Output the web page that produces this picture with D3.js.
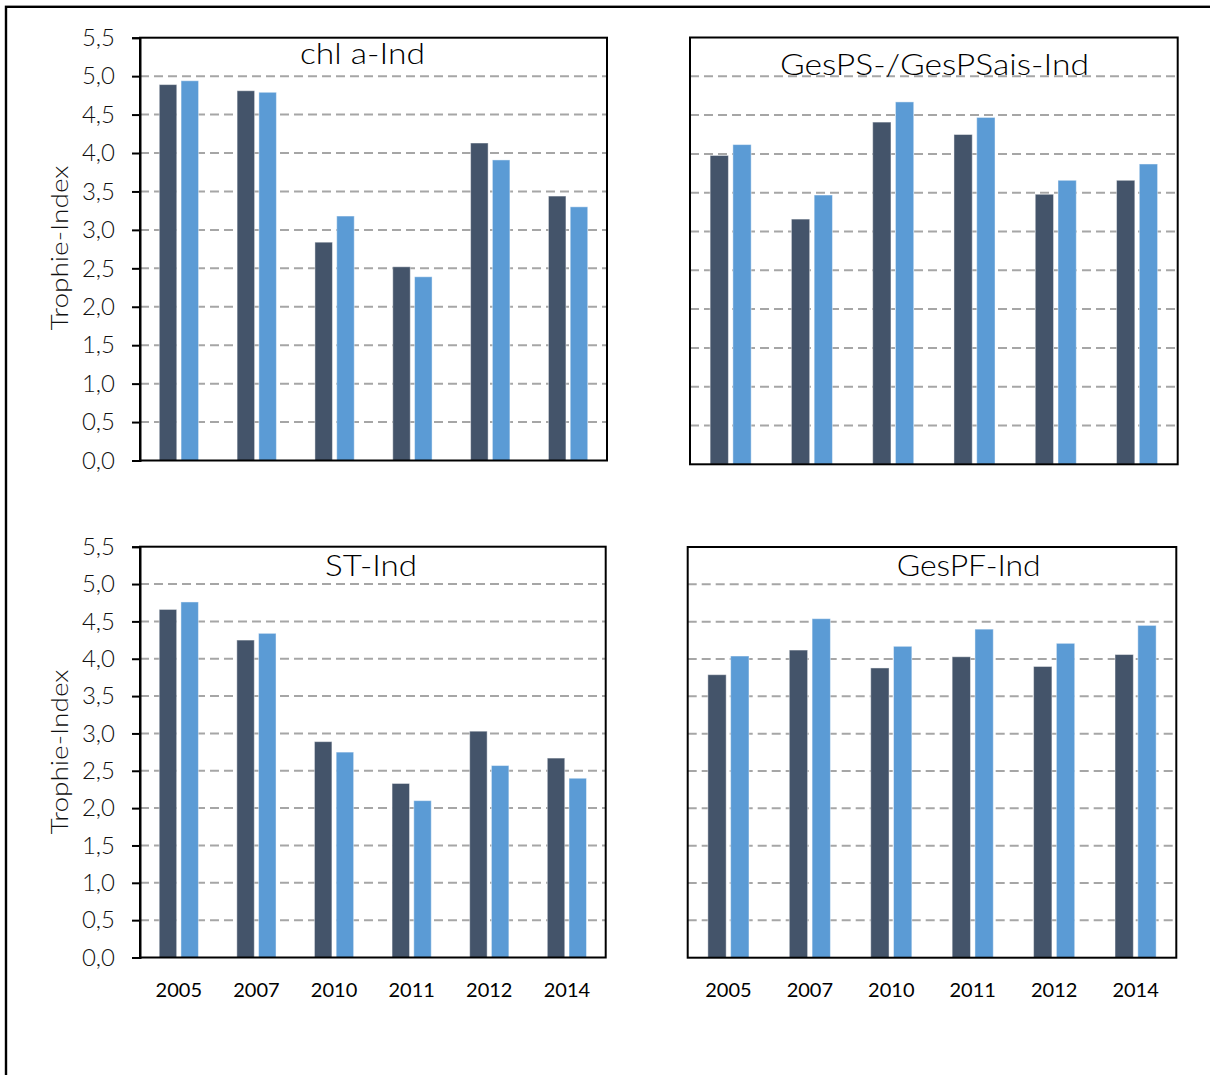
<!DOCTYPE html>
<html>
<head>
<meta charset="utf-8">
<script src="https://cdn.jsdelivr.net/npm/d3@7"></script>
<style>
  html, body { margin: 0; padding: 0; background: #fff; }
  svg { display: block; }
</style>
</head>
<body>
<svg id="chart" width="1210" height="1075"></svg>
<script>
// Years shown on every panel
const years = ["2005", "2007", "2010", "2011", "2012", "2014"];

// Trophie-Index values, two series per indicator
const chlA_1   = [4.89, 4.81, 2.84, 2.52, 4.13, 3.44];
const chlA_2   = [4.94, 4.79, 3.18, 2.39, 3.91, 3.30];
const gesPS_1  = [3.98, 3.16, 4.41, 4.25, 3.48, 3.66];
const gesPS_2  = [4.12, 3.47, 4.67, 4.47, 3.66, 3.87];
const st_1     = [4.66, 4.25, 2.89, 2.33, 3.03, 2.67];
const st_2     = [4.76, 4.34, 2.75, 2.10, 2.57, 2.40];
const gesPF_1  = [3.79, 4.12, 3.88, 4.03, 3.90, 4.06];
const gesPF_2  = [4.04, 4.54, 4.17, 4.40, 4.21, 4.45];

// Axis ticks
const yTicks = [0, 0.5, 1, 1.5, 2, 2.5, 3, 3.5, 4, 4.5, 5, 5.5];
const gridTicks = [0.5, 1, 1.5, 2, 2.5, 3, 3.5, 4, 4.5, 5];

const colors = ["#44546A", "#5B9BD5"];
const fmt = v => d3.format(".1f")(v).replace(".", ",");
const lightFont = "Lato, 'Open Sans', 'Noto Sans', sans-serif";

const panels = [
  { title: "chl a-Ind", s1: chlA_1, s2: chlA_2,
    x0: 140, x1: 607, yTop: 37.7, yBot: 460.5,
    tx: 362.5, ty: 63.5, tw: 125, yAxis: true, xLabels: false, labelY: 248 },
  { title: "GesPS-/GesPSais-Ind", s1: gesPS_1, s2: gesPS_2,
    x0: 690, x1: 1177.7, yTop: 37.5, yBot: 464.3,
    tx: 934.5, ty: 75, tw: 309, yAxis: false, xLabels: false },
  { title: "ST-Ind", s1: st_1, s2: st_2,
    x0: 140, x1: 605.7, yTop: 546.7, yBot: 957.5,
    tx: 371, ty: 576, tw: 92, yAxis: true, xLabels: true, labelY: 752 },
  { title: "GesPF-Ind", s1: gesPF_1, s2: gesPF_2,
    x0: 687.7, x1: 1176.3, yTop: 547, yBot: 957.7,
    tx: 968.7, ty: 576, tw: 144, yAxis: false, xLabels: true }
];

const svg = d3.select("#chart");

// outer frame (left and top edges visible)
svg.append("rect")
  .attr("x", 6).attr("y", 6.8)
  .attr("width", 1400).attr("height", 1200)
  .attr("fill", "none").attr("stroke", "#000").attr("stroke-width", 2.4);

panels.forEach(p => {
  const g = svg.append("g");
  const x = d3.scaleBand().domain(years).range([p.x0, p.x1]).paddingInner(0).paddingOuter(0);
  const y = d3.scaleLinear().domain([0, 5.5]).range([p.yBot, p.yTop]);
  const bw = x.bandwidth();
  const barW = bw * 0.225;
  const gap = bw * 0.055;

  // dashed gridlines
  g.append("g").selectAll("line").data(gridTicks).join("line")
    .attr("x1", p.x0).attr("x2", p.x1)
    .attr("y1", d => y(d)).attr("y2", d => y(d))
    .attr("stroke", "#A6A6A6").attr("stroke-width", 2)
    .attr("stroke-dasharray", "9,5");

  // bars
  const series = [p.s1, p.s2];
  series.forEach((vals, si) => {
    g.append("g").selectAll("rect").data(vals).join("rect")
      .attr("x", (d, i) => x(years[i]) + bw / 2 - (barW + gap / 2) + si * (barW + gap))
      .attr("y", d => y(d))
      .attr("width", barW)
      .attr("height", d => y(0) - y(d))
      .attr("fill", colors[si])
      .attr("stroke", "#ffffff").attr("stroke-opacity", 0.45).attr("stroke-width", 1);
  });

  // plot frame
  g.append("rect")
    .attr("x", p.x0).attr("y", p.yTop)
    .attr("width", p.x1 - p.x0).attr("height", p.yBot - p.yTop)
    .attr("fill", "none").attr("stroke", "#000").attr("stroke-width", 2);

  if (p.yAxis) {
    const ax = g.append("g")
      .attr("transform", `translate(${p.x0},0)`)
      .call(d3.axisLeft(y).tickValues(yTicks).tickFormat(fmt).tickSize(8).tickPadding(17));
    ax.select(".domain").attr("stroke", "#000").attr("stroke-width", 2);
    ax.selectAll(".tick line").attr("stroke", "#000").attr("stroke-width", 2);
    ax.selectAll(".tick text")
      .attr("font-family", lightFont).attr("font-weight", 300)
      .attr("font-size", 24).attr("fill", "#111");

    svg.append("text")
      .attr("transform", `translate(68,${p.labelY}) rotate(-90)`)
      .attr("text-anchor", "middle")
      .attr("font-family", lightFont).attr("font-weight", 300)
      .attr("font-size", 24).attr("fill", "#111")
      .attr("textLength", 165).attr("lengthAdjust", "spacingAndGlyphs")
      .text("Trophie-Index");
  }

  if (p.xLabels) {
    const ax = g.append("g")
      .attr("transform", `translate(0,${p.yBot})`)
      .call(d3.axisBottom(x).tickSize(0).tickPadding(0));
    ax.select(".domain").remove();
    ax.selectAll(".tick text")
      .attr("y", 39.5).attr("dy", 0)
      .attr("font-family", "Lato, 'Noto Sans', sans-serif")
      .attr("font-size", 20).attr("fill", "#000");
  }

  // panel title
  g.append("text")
    .attr("x", p.tx).attr("y", p.ty)
    .attr("text-anchor", "middle")
    .attr("font-family", lightFont).attr("font-weight", 300)
    .attr("font-size", 29).attr("fill", "#000")
    .attr("textLength", p.tw).attr("lengthAdjust", "spacingAndGlyphs")
    .text(p.title);
});
</script>
</body>
</html>
